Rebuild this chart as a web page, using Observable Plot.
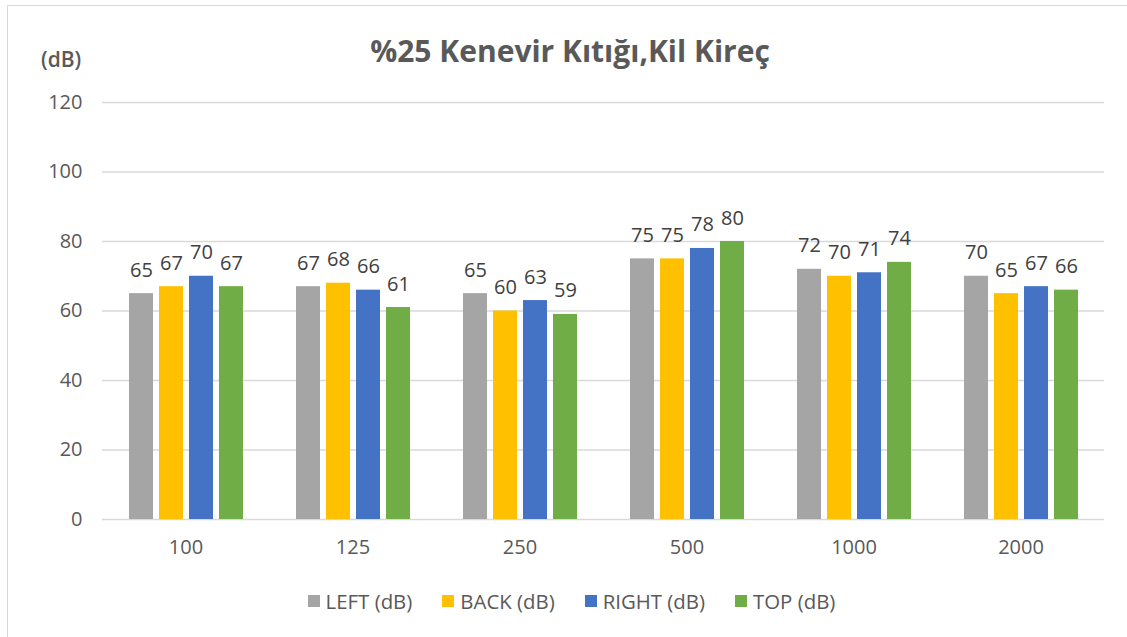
<!DOCTYPE html>
<html>
<head>
<meta charset="utf-8">
<script src="https://cdn.jsdelivr.net/npm/d3@7"></script>
<script src="https://cdn.jsdelivr.net/npm/@observablehq/plot@0.6"></script>
<style>
  html, body { margin: 0; padding: 0; background: #fff; }
  #wrap { position: relative; width: 1127px; height: 637px; overflow: hidden; background: #fff; font-family: "Open Sans", sans-serif; }
  #frame { position: absolute; left: 7px; top: 5px; width: 1140px; height: 660px; border: 1.5px solid #d9d9d9; box-sizing: border-box; }
  #title { position: absolute; left: 0; width: 1140px; top: 31px; text-align: center; font-size: 30px; line-height: 40px; font-weight: 700; color: #595959; }
  #ylab { position: absolute; left: 41px; top: 44px; font-size: 21px; line-height: 30px; font-weight: 600; color: #595959; }
  #chart { position: absolute; left: 0; top: 0; }
  #legend { position: absolute; left: 0; width: 1127px; padding-left: 16px; box-sizing: border-box; top: 586px; display: flex; justify-content: center; font-size: 20.4px; line-height: 30px; color: #595959; }
  .item { display: flex; align-items: center; margin: 0 15px; }
  .sw { width: 12px; height: 12px; margin-right: 6px; }
</style>
</head>
<body>
<div id="wrap">
  <div id="frame"></div>
  <div id="chart"></div>
  <div id="title">%25 Kenevir Kıtığı,Kil Kireç</div>
  <div id="ylab">(dB)</div>
  <div id="legend"></div>
</div>
<script>
const categories = ["100", "125", "250", "500", "1000", "2000"];
const seriesNames = ["LEFT (dB)", "BACK (dB)", "RIGHT (dB)", "TOP (dB)"];
const leftValues = [65, 67, 65, 75, 72, 70];
const backValues = [67, 68, 60, 75, 70, 65];
const rightValues = [70, 66, 63, 78, 71, 67];
const topValues = [67, 61, 59, 80, 74, 66];
const seriesColors = ["#A5A5A5", "#FFC000", "#4472C4", "#70AD47"];
const yTicks = [0, 20, 40, 60, 80, 100, 120];

const valueSets = [leftValues, backValues, rightValues, topValues];
const data = [];
categories.forEach((c, i) => {
  seriesNames.forEach((s, j) => {
    data.push({freq: c, series: s, value: valueSets[j][i]});
  });
});

const chart = Plot.plot({
  width: 1127,
  height: 560,
  marginLeft: 100,
  marginRight: 22,
  marginTop: 102,
  marginBottom: 41,
  style: {fontSize: "20px", fontFamily: "Open Sans, sans-serif", color: "#595959", background: "transparent"},
  fx: {domain: categories, padding: 0, label: null, axis: null},
  x: {domain: seriesNames, paddingInner: 0.21, paddingOuter: 0.85, axis: null},
  y: {domain: [0, 120], label: null},
  color: {domain: seriesNames, range: seriesColors},
  marks: [
    Plot.ruleY(yTicks, {stroke: "#d9d9d9", strokeWidth: 1.6}),
    Plot.barY(data, {fx: "freq", x: "series", y: "value", fill: "series"}),
    Plot.text(data, {fx: "freq", x: "series", y: "value", text: d => String(d.value), dy: -17, lineAnchor: "bottom", fill: "#404040", fontSize: 20}),
    Plot.axisY({ticks: yTicks, tickSize: 0, tickPadding: 20, label: null}),
    Plot.axisFx({anchor: "bottom", tickSize: 0, tickPadding: 20, label: null})
  ]
});
document.getElementById("chart").appendChild(chart);

const legend = document.getElementById("legend");
seriesNames.forEach((s, i) => {
  const item = document.createElement("div");
  item.className = "item";
  const sw = document.createElement("span");
  sw.className = "sw";
  sw.style.background = seriesColors[i];
  const t = document.createElement("span");
  t.textContent = s;
  item.appendChild(sw);
  item.appendChild(t);
  legend.appendChild(item);
});
</script>
</body>
</html>
